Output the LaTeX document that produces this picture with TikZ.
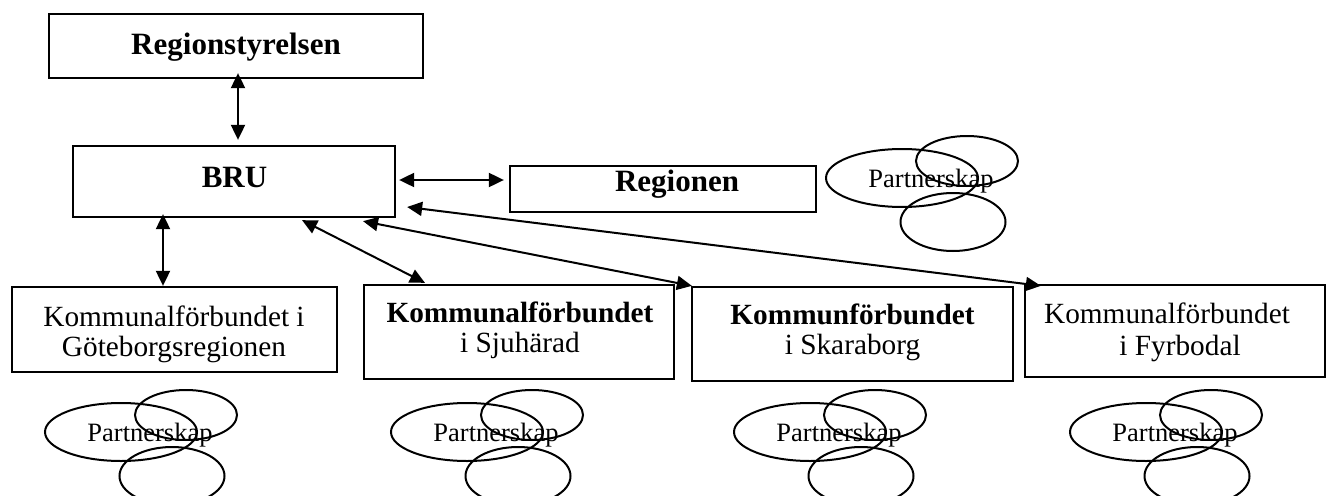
\documentclass[tikz,border=0pt]{standalone}
\usepackage{fontspec}
\setmainfont{Liberation Serif}
\usetikzlibrary{shapes.geometric,arrows.meta,calc}
\begin{document}
\begin{tikzpicture}[x=1pt,y=-1pt,
  box/.style={draw,line width=2.3pt,inner sep=0pt,rectangle},
  blob/.style={draw,line width=2pt,ellipse,inner sep=0pt},
  conn/.style={line width=2pt,{Triangle[length=15pt,width=14pt]}-{Triangle[length=15pt,width=14pt]}},
  bigfont/.style={font=\fontsize{31}{33}\selectfont\bfseries},
  regfont/.style={font=\fontsize{29.3}{31}\selectfont},
  boldfont/.style={font=\fontsize{29.3}{31}\selectfont\bfseries},
  partfont/.style={font=\fontsize{26.5}{28}\selectfont},
  txt/.style={anchor=base,inner sep=0pt}
]
\useasboundingbox (0,0) rectangle (1327,495);

% boxes
\node[box,minimum width=374pt,minimum height=64pt] (rs) at (236,46) {};
\node[box,minimum width=322pt,minimum height=71pt] (bru) at (234,181.5) {};
\node[box,minimum width=306pt,minimum height=46pt] (reg) at (663,189) {};
\node[box,minimum width=325pt,minimum height=85pt] (k1) at (174.5,329.5) {};
\node[box,minimum width=310pt,minimum height=94pt] (k2) at (519,332) {};
\node[box,minimum width=321pt,minimum height=94pt] (k3) at (852.5,334) {};
\node[box,minimum width=300pt,minimum height=92pt] (k4) at (1175,331) {};

% texts
\node[txt,bigfont] (trs) at (236,55) {Regionstyrelsen};
\node[txt,bigfont] (tbru) at (234.5,187) {BRU};
\node[txt,bigfont] (treg) at (677,191) {Regionen};
\node[txt,regfont] (t1a) at (174,326) {Kommunalförbundet i};
\node[txt,regfont] (t1b) at (174,356) {Göteborgsregionen};
\node[txt,boldfont] (t2a) at (520,322) {Kommunalförbundet};
\node[txt,regfont] (t2b) at (520,352) {i Sjuhärad};
\node[txt,boldfont] (t3a) at (852.5,324) {Kommunförbundet};
\node[txt,regfont] (t3b) at (852.5,354) {i Skaraborg};
\node[txt,regfont] (t4a) at (1167,323) {Kommunalförbundet};
\node[txt,regfont] (t4b) at (1180,355) {i Fyrbodal};

% connectors
\draw[conn] ($(rs.south)+(2,-6)$) -- ($(bru.north)+(4,-5)$);
\draw[conn] ($(bru.east)+(3,-1.5)$) -- ($(reg.west)+(-5,-9)$);
\draw[conn] ($(bru.south)+(-71,-4)$) -- ($(k1.north)+(-11.5,0)$);
\draw[conn] ($(bru.south)+(68,2)$) -- ($(k2.north)+(-94,-1)$);
\draw[conn] ($(bru.south)+(129,3)$) -- ($(k3.north west)+(1,0)$);
\draw[conn] ($(bru.east)+(11,25.5)$) -- ($(k4.north west)+(17,2)$);

% partnership clusters
\foreach \n/\bx/\by in {p0/902/178, p1/121/432, p2/467/432, p3/810/432, p4/1146/432}{
  \node[blob,minimum width=152pt,minimum height=58pt] (\n big) at (\bx,\by) {};
  \node[blob,minimum width=102pt,minimum height=50pt] (\n top) at (\bx+65,\by-17) {};
  \node[blob,minimum width=105pt,minimum height=58pt] (\n bot) at (\bx+51,\by+44) {};
  \node[txt,partfont] (\n txt) at (\bx+29,\by+9) {Partnerskap};
}
\end{tikzpicture}
\end{document}
